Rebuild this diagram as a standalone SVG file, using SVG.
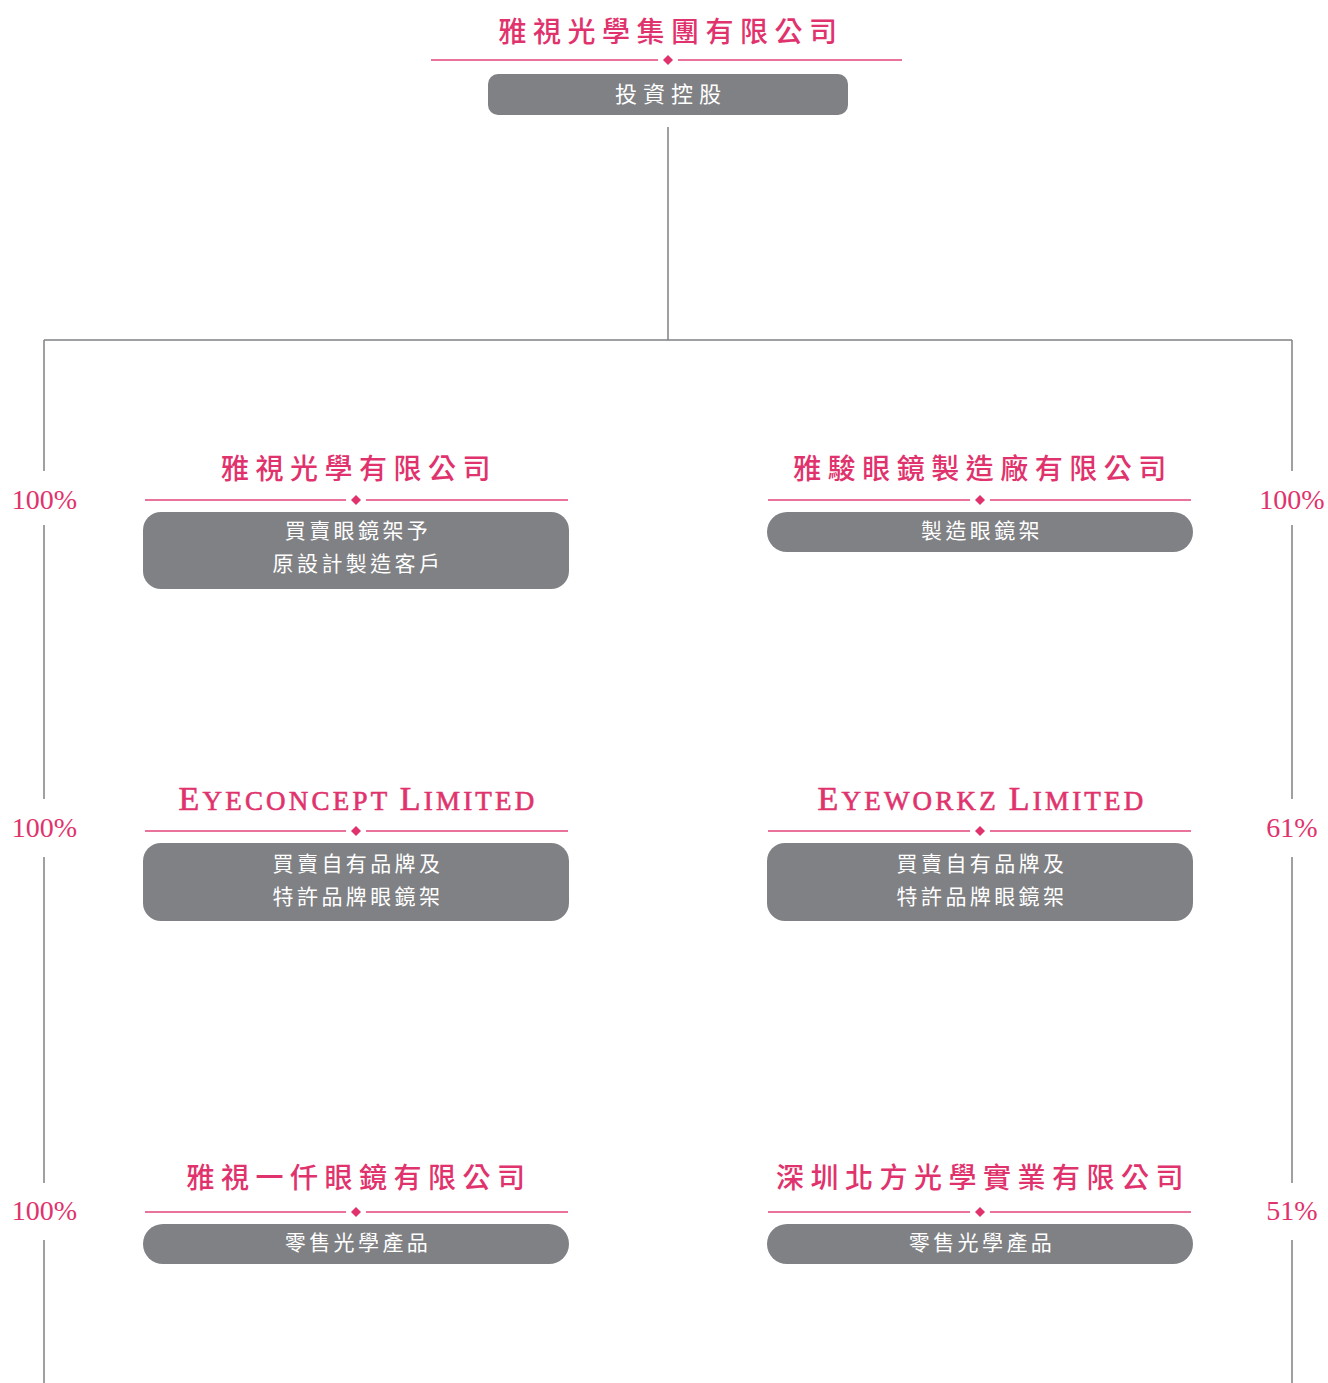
<svg xmlns="http://www.w3.org/2000/svg" width="1328" height="1383" viewBox="0 0 1328 1383">
<style>
.bg{fill:#ffffff}
.conn{stroke:#808184;stroke-width:1.5;fill:none}
.sep{stroke:#e2457a;stroke-width:1.5}
.dia{fill:#e0336d}
.title{font-family:"Noto Sans CJK TC","Noto Sans CJK SC",sans-serif;font-size:28px;font-weight:500;fill:#e0336d;letter-spacing:6.5px;text-anchor:middle}
.etitle{font-family:"Liberation Serif","DejaVu Serif",serif;font-size:27px;fill:#e0336d;stroke:#e0336d;stroke-width:0.6;letter-spacing:3.2px;text-anchor:middle}
.big{font-size:34px}
.box{fill:#808184}
.btxt{font-family:"Noto Sans CJK TC","Noto Sans CJK SC",sans-serif;font-size:21px;fill:#ffffff;letter-spacing:3.4px;text-anchor:middle}
.pct{font-family:"Liberation Serif","DejaVu Serif",serif;font-size:28px;fill:#e0336d;text-anchor:middle}
</style>
<rect class="bg" x="0" y="0" width="1328" height="1383"/>
<g id="connectors">
<path class="conn" d="M668 127V340M44 340H1292"/>
<path class="conn" d="M44 340V471M44 525V799M44 857V1183M44 1240V1383"/>
<path class="conn" d="M1292 340V471M1292 525V799M1292 857V1183M1292 1240V1383"/>
<text class="pct" x="44.5" y="509">100%</text>
<text class="pct" x="44.5" y="837">100%</text>
<text class="pct" x="44.5" y="1220">100%</text>
<text class="pct" x="1292" y="509">100%</text>
<text class="pct" x="1292" y="837">61%</text>
<text class="pct" x="1292" y="1220">51%</text>
</g>
<g id="top">
<text class="title" x="671" y="41.5">雅視光學集團有限公司</text>
<path class="sep" d="M431 60H658M678 60H902"/>
<path class="dia" d="M668 55L673 60L668 65L663 60Z"/>
<rect class="box" x="488" y="74" width="360" height="41" rx="10"/>
<text class="btxt" x="671" y="101.5" style="font-size:22px;letter-spacing:6px">投資控股</text>
</g>
<g id="n1">
<text class="title" x="359" y="479">雅視光學有限公司</text>
<path class="sep" d="M145 500H346M366 500H568"/>
<path class="dia" d="M356 495L361 500L356 505L351 500Z"/>
<rect class="box" x="143" y="512" width="426" height="77" rx="18"/>
<text class="btxt" x="358" y="538">買賣眼鏡架予</text>
<text class="btxt" x="358" y="571">原設計製造客戶</text>
</g>
<g id="n2">
<text class="title" x="983" y="479">雅駿眼鏡製造廠有限公司</text>
<path class="sep" d="M768 500H970M990 500H1191"/>
<path class="dia" d="M980 495L985 500L980 505L975 500Z"/>
<rect class="box" x="767" y="512" width="426" height="40" rx="20"/>
<text class="btxt" x="982" y="538">製造眼鏡架</text>
</g>
<g id="n3">
<text class="etitle" x="358" y="810"><tspan class="big">E</tspan>YECONCEPT <tspan class="big">L</tspan>IMITED</text>
<path class="sep" d="M145 831H346M366 831H568"/>
<path class="dia" d="M356 826L361 831L356 836L351 831Z"/>
<rect class="box" x="143" y="843" width="426" height="78" rx="18"/>
<text class="btxt" x="358" y="871">買賣自有品牌及</text>
<text class="btxt" x="358" y="904">特許品牌眼鏡架</text>
</g>
<g id="n4">
<text class="etitle" x="982" y="810"><tspan class="big">E</tspan>YEWORKZ <tspan class="big">L</tspan>IMITED</text>
<path class="sep" d="M768 831H970M990 831H1191"/>
<path class="dia" d="M980 826L985 831L980 836L975 831Z"/>
<rect class="box" x="767" y="843" width="426" height="78" rx="18"/>
<text class="btxt" x="982" y="871">買賣自有品牌及</text>
<text class="btxt" x="982" y="904">特許品牌眼鏡架</text>
</g>
<g id="n5">
<text class="title" x="359" y="1188">雅視一仟眼鏡有限公司</text>
<path class="sep" d="M145 1212H346M366 1212H568"/>
<path class="dia" d="M356 1207L361 1212L356 1217L351 1212Z"/>
<rect class="box" x="143" y="1224" width="426" height="40" rx="20"/>
<text class="btxt" x="358" y="1250">零售光學產品</text>
</g>
<g id="n6">
<text class="title" x="983" y="1188">深圳北方光學實業有限公司</text>
<path class="sep" d="M768 1212H970M990 1212H1191"/>
<path class="dia" d="M980 1207L985 1212L980 1217L975 1212Z"/>
<rect class="box" x="767" y="1224" width="426" height="40" rx="20"/>
<text class="btxt" x="982" y="1250">零售光學產品</text>
</g>
</svg>
